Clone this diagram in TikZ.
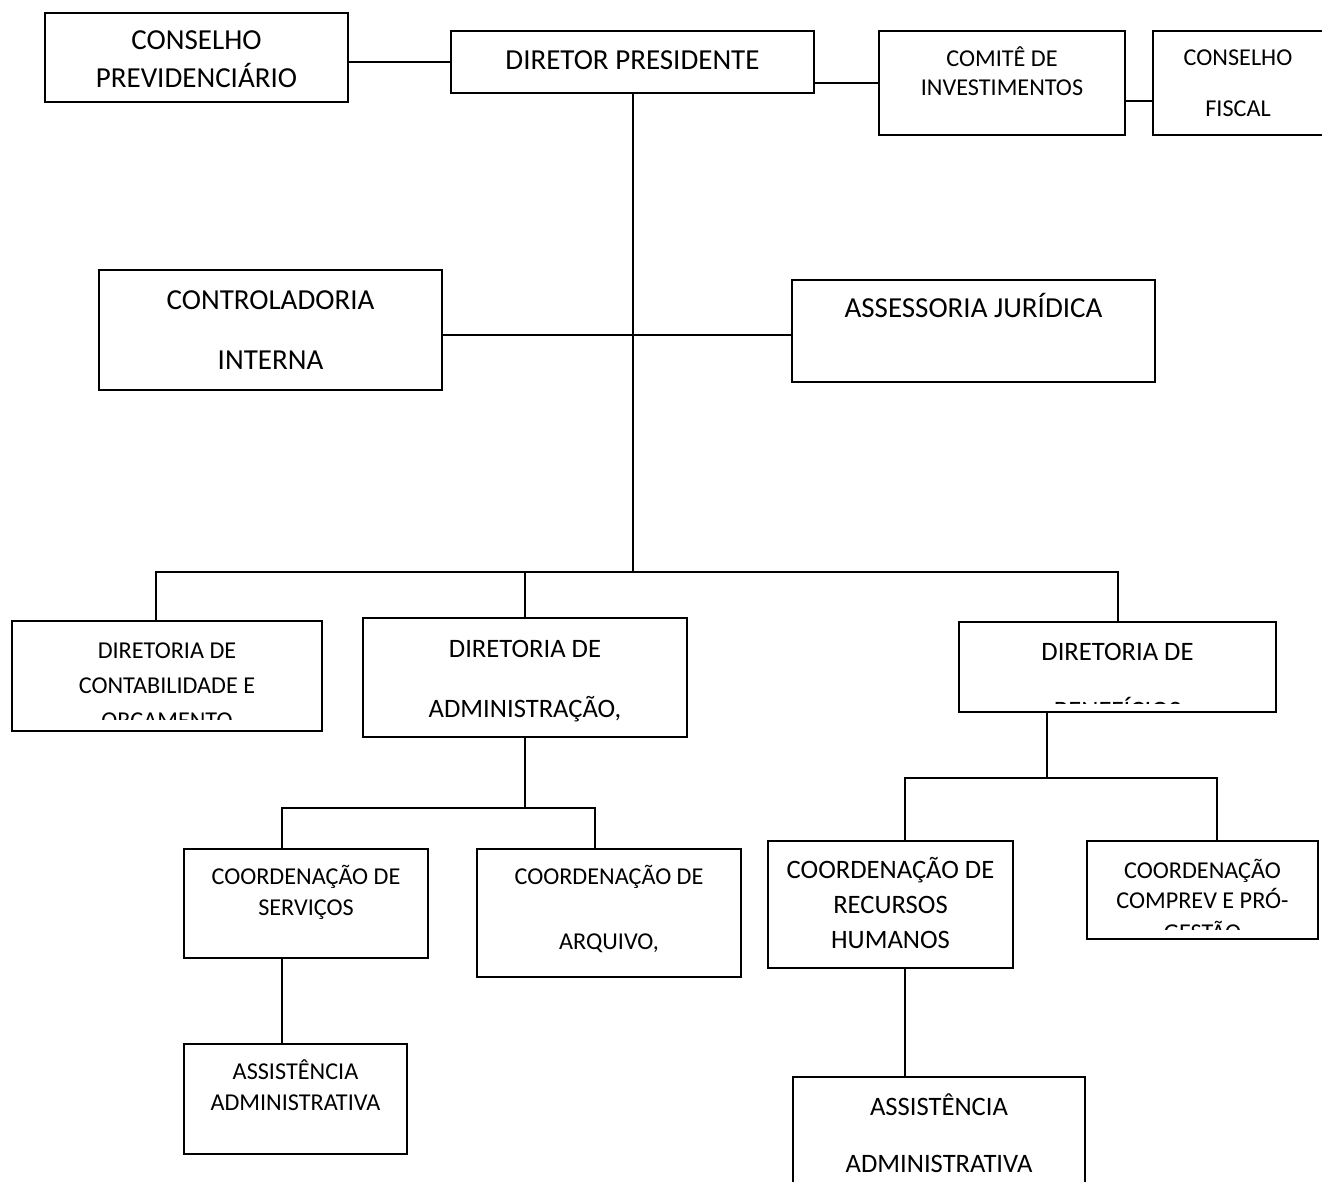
\documentclass[tikz,border=0pt]{standalone}
\usepackage{fontspec}
\setmainfont{Carlito}
\usetikzlibrary{fit,calc}

\begin{document}
\begin{tikzpicture}[x=0.5pt,y=-0.5pt,
  orgbox/.style={draw,line width=1pt,inner sep=0pt},
  link/.style={line width=1pt},
  bigtext/.style={anchor=base,inner sep=0pt,font=\fontsize{14.5}{17}\selectfont},
  midtext/.style={anchor=base,inner sep=0pt,font=\fontsize{13.3}{16}\selectfont},
  smalltext/.style={anchor=base,inner sep=0pt,font=\fontsize{12.1}{14}\selectfont}]
\clip (0,0) rectangle (1322,1182);
\fill[white] (0,0) rectangle (1322,1182);

% top row
\node[orgbox,fit={(45,13) (348,102)}] (cprev) {};
\node[bigtext] (cprev-a) at (196.5,50) {CONSELHO};
\node[bigtext] (cprev-b) at (196.5,88) {PREVIDENCIÁRIO};
\node[orgbox,fit={(451,31) (814,93)}] (dp) {};
\node[bigtext] (dp-a) at (632.5,70) {DIRETOR PRESIDENTE};
\node[orgbox,fit={(879,31) (1125,135)}] (comite) {};
\node[smalltext] (comite-a) at (1002,67) {COMITÊ DE};
\node[smalltext] (comite-b) at (1002,96) {INVESTIMENTOS};
\node[orgbox,fit={(1153,31) (1323,135)}] (fiscal) {};
\node[smalltext] (fiscal-a) at (1238,66) {CONSELHO};
\node[smalltext] (fiscal-b) at (1238,117) {FISCAL};

% staff boxes
\node[orgbox,fit={(99,270) (442,390)}] (ctrl) {};
\node[bigtext] (ctrl-a) at (270.5,309) {CONTROLADORIA};
\node[bigtext] (ctrl-b) at (270.5,369) {INTERNA};
\node[orgbox,fit={(792,280) (1155,382)}] (assess) {};
\node[bigtext] (assess-a) at (973.5,317) {ASSESSORIA JURÍDICA};

% directorates
\node[orgbox,fit={(12,621) (322,731)}] (dcont) {};
\node[smalltext] (dcont-a) at (167,658) {DIRETORIA DE};
\node[smalltext] (dcont-b) at (167,693) {CONTABILIDADE E};
\begin{scope}
  \clip (12,621) rectangle (322,719);
  \node[smalltext] (dcont-c) at (167,728) {ORÇAMENTO};
\end{scope}
\node[orgbox,fit={(363,618) (687,737)}] (dadm) {};
\node[midtext] (dadm-a) at (525,657) {DIRETORIA DE};
\node[midtext] (dadm-b) at (525,717) {ADMINISTRAÇÃO,};
\node[orgbox,fit={(959,622) (1276,712)}] (dben) {};
\node[midtext] (dben-a) at (1117.5,660) {DIRETORIA DE};
\begin{scope}
  \clip (959,622) rectangle (1276,703);
  \node[midtext] (dben-b) at (1117.5,719) {BENEFÍCIOS};
\end{scope}

% coordinations
\node[orgbox,fit={(184,849) (428,958)}] (cserv) {};
\node[smalltext] (cserv-a) at (306,884) {COORDENAÇÃO DE};
\node[smalltext] (cserv-b) at (306,915) {SERVIÇOS};
\node[orgbox,fit={(477,849) (741,977)}] (carq) {};
\node[smalltext] (carq-a) at (609,884) {COORDENAÇÃO DE};
\node[smalltext] (carq-b) at (609,949) {ARQUIVO,};
\node[orgbox,fit={(768,841) (1013,968)}] (crh) {};
\node[midtext] (crh-a) at (890.5,878) {COORDENAÇÃO DE};
\node[midtext] (crh-b) at (890.5,913) {RECURSOS};
\node[midtext] (crh-c) at (890.5,948) {HUMANOS};
\node[orgbox,fit={(1087,841) (1318,939)}] (ccomp) {};
\node[smalltext] (ccomp-a) at (1202.5,878) {COORDENAÇÃO};
\node[smalltext] (ccomp-b) at (1202.5,908) {COMPREV E PRÓ-};
\begin{scope}
  \clip (1087,841) rectangle (1318,929);
  \node[smalltext] (ccomp-c) at (1202.5,940) {GESTÃO};
\end{scope}

% assistance
\node[orgbox,fit={(184,1044) (407,1154)}] (assist1) {};
\node[smalltext] (assist1-a) at (295.5,1079) {ASSISTÊNCIA};
\node[smalltext] (assist1-b) at (295.5,1110) {ADMINISTRATIVA};
\node[orgbox,fit={(793,1077) (1085,1192)}] (assist2) {};
\node[midtext] (assist2-a) at (939,1115) {ASSISTÊNCIA};
\node[midtext] (assist2-b) at (939,1172) {ADMINISTRATIVA};

% connectors
\coordinate (cf) at (1139,101);
\coordinate (side) at (633,335);
\coordinate (bus) at (633,572);
\coordinate (busL) at (156,572);
\coordinate (admL) at (282,808);
\coordinate (admR) at (595,808);
\coordinate (benL) at (905,778);
\coordinate (benM) at (1047,778);
\coordinate (benR) at (1217,778);
\draw[link] (cprev.east |- dp.west) -- (dp.west);
\draw[link] (dp.east |- comite.west) -- (comite.west);
\draw[link] (comite.east |- cf) -- (fiscal.west |- cf);
\draw[link] (bus |- dp.south) -- (bus);
\draw[link] (ctrl.east |- side) -- (assess.west |- side);
\draw[link] (busL |- dcont.north) -- (busL) -- (bus) -| (dben.north);
\draw[link] (dadm.north) -- (dadm.north |- bus);
\draw[link] (dadm.south) -- (dadm.south |- admL);
\draw[link] (admL |- cserv.north) -- (admL) -- (admR) -- (admR |- carq.north);
\draw[link] (admL |- cserv.south) -- (admL |- assist1.north);
\draw[link] (benM |- dben.south) -- (benM);
\draw[link] (benL |- crh.north) -- (benL) -- (benR) -- (benR |- ccomp.north);
\draw[link] (benL |- crh.south) -- (benL |- assist2.north);
\end{tikzpicture}
\end{document}
